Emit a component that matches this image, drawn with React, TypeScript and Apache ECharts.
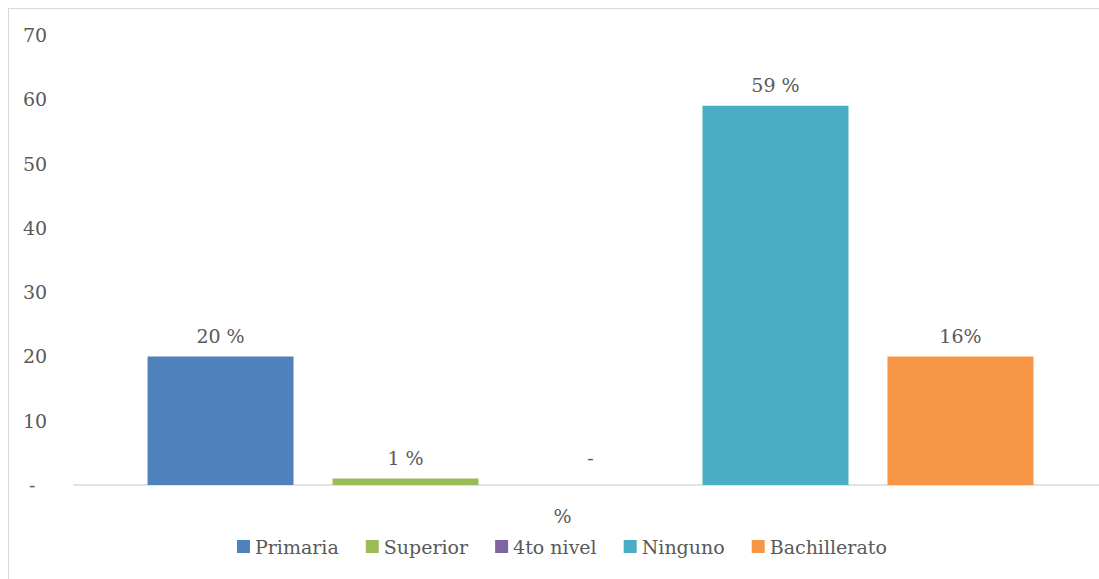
import React, { useEffect, useRef } from "react";
import * as echarts from "echarts";

const categories = ["%"];
const seriesNames = ["Primaria", "Superior", "4to nivel", "Ninguno", "Bachillerato"];
const seriesValues = [20, 1, 0, 59, 20];
const seriesLabels = ["20 %", "1 %", "-", "59 %", "16%"];
const seriesColors = ["#4f81bd", "#9bbb59", "#8064a2", "#4bacc6", "#f79646"];
const yTicks = [0, 10, 20, 30, 40, 50, 60, 70];

const FONT = "DejaVu Serif";
const FS = 19;
const TEXT = "#595959";

export default function App() {
  const ref = useRef<HTMLDivElement>(null);
  useEffect(() => {
    if (!ref.current) return;
    const chart = echarts.init(ref.current, undefined, { renderer: "svg" });
    chart.setOption({
      animation: false,
      textStyle: { fontFamily: FONT },
      grid: { left: 65, top: 26, width: 1033, height: 450, containLabel: false, outerBoundsMode: "none" },
      legend: {
        left: 228,
        top: 528,
        padding: 0,
        itemWidth: 13,
        itemHeight: 13,
        itemGap: 27,
        icon: "rect",
        textStyle: { fontFamily: FONT, fontSize: FS, color: TEXT },
        data: seriesNames,
      },
      xAxis: {
        type: "category",
        data: categories,
        axisTick: { show: false },
        axisLine: { lineStyle: { color: "#d9d9d9", width: 1.5 } },
        axisLabel: { fontFamily: FONT, fontSize: FS, color: TEXT, margin: 21, padding: [0, 56, 0, 0] },
      },
      yAxis: {
        type: "value",
        min: yTicks[0],
        max: yTicks[yTicks.length - 1],
        interval: 10,
        splitLine: { show: false },
        axisLine: { show: false },
        axisTick: { show: false },
        axisLabel: {
          fontFamily: FONT,
          fontSize: FS,
          color: TEXT,
          align: "left",
          margin: 51,
          formatter: (v: number) => (v === 0 ? " -" : String(v)),
        },
      },
      series: seriesNames.map((name, i) => ({
        name,
        type: "bar",
        barWidth: 146,
        barGap: "26.7%",
        itemStyle: { color: seriesColors[i] },
        data: [seriesValues[i]],
        label: {
          show: true,
          position: "top",
          distance: seriesValues[i] === 0 ? 18 : 11,
          fontFamily: FONT,
          fontSize: FS,
          color: TEXT,
          formatter: () => seriesLabels[i],
        },
      })),
    });
    return () => chart.dispose();
  }, []);
  return (
    <div
      style={{
        position: "fixed",
        left: 8,
        top: 8,
        width: 1091,
        height: 571,
        borderTop: "1px solid #d9d9d9",
        borderLeft: "1px solid #d9d9d9",
        boxSizing: "border-box",
        background: "#fff",
      }}
    >
      <div ref={ref} style={{ width: 1090, height: 570 }} />
    </div>
  );
}
